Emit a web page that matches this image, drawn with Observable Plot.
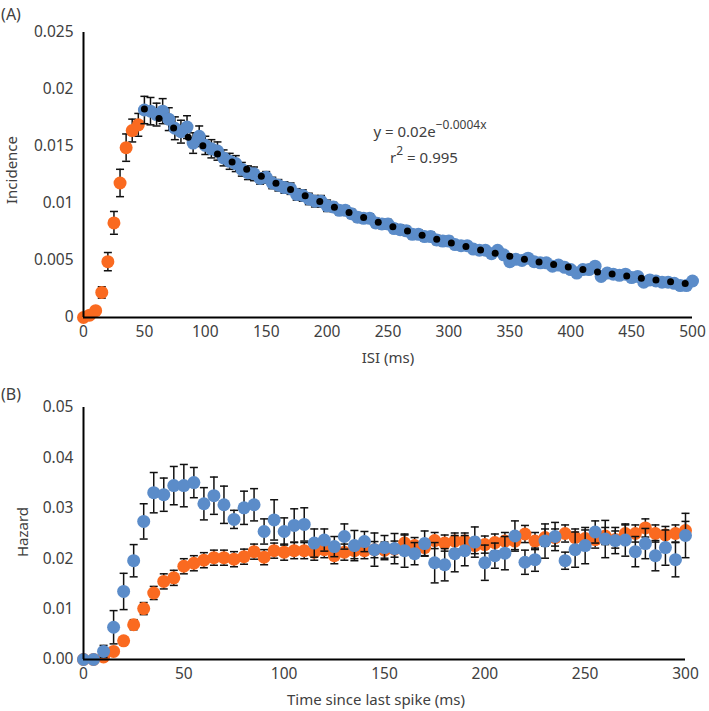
<!DOCTYPE html>
<html><head><meta charset="utf-8">
<script src="https://cdn.jsdelivr.net/npm/d3@7"></script>
<script src="https://cdn.jsdelivr.net/npm/@observablehq/plot@0.6"></script>
<style>
body{margin:0;background:#fff;}
#wrap{position:relative;width:709px;height:711px;font-family:"Noto Sans",sans-serif;color:#404040;}
#wrap svg{position:absolute;left:0;}
.lab{position:absolute;white-space:nowrap;font-size:15px;line-height:1;transform:translate(-50%,-50%);}
.rot{transform:translate(-50%,-50%) rotate(-90deg);}
.big{font-size:16px;}
sup{font-size:12px;vertical-align:0.6em;line-height:0;}
</style>
</head><body><div id="wrap"></div>
<script>
// ---------- Panel A: ISI distribution ----------
const isiTicksX = [0,50,100,150,200,250,300,350,400,450,500];
const incidenceTicks = [0,0.005,0.01,0.015,0.02,0.025];
const orangeT_A = [0,5,10,15,20,25,30,35,40,45];
const orangeV_A = [0,0.0002,0.0006,0.0022,0.0049,0.0083,0.0118,0.0149,0.0164,0.0169];
const orangeE_A = [0,0,0.0002,0.0005,0.0008,0.001,0.0012,0.0012,0.001,0.001];
const blueT_A = d3.range(50, 501, 5);
const blueV_A = [
0.0182,0.0181,0.0178,0.0181,0.0174,
0.0166,0.0163,0.0167,0.0153,0.0159,
0.0151,0.0148,0.0146,0.0140,0.0137,
0.0135,0.0130,0.0127,0.0126,0.0122,
0.0123,0.0118,0.0116,0.0114,0.0113,
0.0108,0.0107,0.0104,0.0102,0.0102,
0.0098,0.0097,0.0094,0.0094,0.0091,
0.0088,0.0087,0.0087,0.0083,0.0082,
0.0082,0.0078,0.0077,0.0076,0.0073,
0.0073,0.0071,0.0071,0.0068,0.0067,
0.0067,0.0064,0.0063,0.0063,0.0060,
0.0059,0.0059,0.0056,0.0059,0.0055,
0.0049,0.0051,0.0050,0.0052,0.0049,
0.0048,0.0048,0.0045,0.0046,0.0044,
0.0042,0.0039,0.0042,0.0042,0.0045,
0.0036,0.0039,0.0038,0.0037,0.0038,
0.0035,0.0036,0.0031,0.0033,0.0032,
0.0031,0.0031,0.0030,0.0028,0.0028,
0.0032];
const blueE_A = [
0.0012,0.0012,0.001,0.0011,0.001,
0.001,0.001,0.001,0.0009,0.0009,0.0008,
0.0008,0.0008,0.0007,0.0007,0.0007,0.0006,0.0006,0.0006,
0.0005,0.0005,0.0005,0.0005,0.0005,0.0005,0.0005,0.0005,0.0005,0.0005,0.0005,0.0005,
0.0004,0.0004,0.0004,0.0004,0.0004,0.0004,0.0004,0.0004,0.0004,0.0004,
0.0004,0.0004,0.0004,0.0004,0.0004,0.0004,0.0004,0.0004,0.0004,0.0004,
0.0003,0.0003,0.0003,0.0003,0.0003,0.0003,0.0003,0.0003,0.0003,0.0003,
0.0003,0.0003,0.0003,0.0003,0.0003,0.0003,0.0003,0.0003,0.0003,0.0003,
0.0003,0.0003,0.0003,0.0003,0.0003,0.0003,0.0003,0.0003,0.0003,0.0003,
0.0003,0.0003,0.0003,0.0003,0.0003,0.0003,0.0003,0.0003,0.0003,0.0003];
const fitT_A = d3.range(50, 495, 12);
const fitV_A = [0.0183,0.01745,0.01662,0.01582,0.01506,0.01434,0.01365,0.0130,0.01238,0.01178,
0.01122,0.01068,0.01017,0.00968,0.00922,0.00878,0.00836,0.00796,0.00758,0.00721,
0.00687,0.00654,0.00623,0.00593,0.00564,0.00537,0.00512,0.00487,0.00464,0.00442,
0.0042,0.0040,0.00381,0.00363,0.00345,0.00329,0.00313,0.00298];

// ---------- Panel B: hazard ----------
const timeTicksX = [0,50,100,150,200,250,300];
const hazardTicks = [0,0.01,0.02,0.03,0.04,0.05];
const timeT_B = d3.range(0, 301, 5);
const blueV_B = [0,0,0.0016,0.0064,0.0135,0.0196,0.0274,0.0331,0.0327,0.0345,
0.0345,0.0351,0.0309,0.0325,0.0307,0.0278,0.0301,0.0307,0.0254,0.0277,
0.0254,0.0266,0.0268,0.0231,0.0237,0.0224,0.0244,0.0226,0.0234,0.0218,
0.0222,0.0220,0.0216,0.0210,0.0230,0.0192,0.0188,0.0210,0.0216,0.0233,
0.0192,0.0206,0.0211,0.0245,0.0193,0.0198,0.0235,0.0244,0.0196,0.0218,
0.0226,0.0253,0.0239,0.0236,0.0237,0.0214,0.0230,0.0206,0.0222,0.0198,
0.0246];
const blueE_B = [0,0,0.0012,0.0033,0.0036,0.0032,0.0035,0.004,0.0033,0.0038,
0.0042,0.003,0.0032,0.0037,0.0037,0.0018,0.0033,0.0032,0.0025,0.004,
0.0027,0.0033,0.0033,0.0028,0.0022,0.002,0.0025,0.003,0.002,0.0033,
0.0024,0.003,0.0033,0.0022,0.0025,0.004,0.0032,0.0036,0.003,0.003,
0.0035,0.0025,0.0033,0.003,0.0024,0.0023,0.0034,0.0028,0.0017,0.0035,
0.0036,0.0022,0.0037,0.0026,0.0032,0.003,0.003,0.003,0.0035,0.0034,
0.0044];
const orangeV_B = [0,0,0.0005,0.0016,0.0037,0.0069,0.0101,0.0132,0.0155,0.0162,
0.0185,0.0191,0.0197,0.0202,0.0202,0.0199,0.0204,0.0214,0.0203,0.0216,
0.0213,0.0216,0.0216,0.0213,0.0218,0.0206,0.0213,0.0216,0.0216,0.0218,
0.0217,0.0219,0.0231,0.0226,0.0222,0.0236,0.0231,0.0235,0.0235,0.0226,
0.0228,0.0232,0.0235,0.0235,0.0249,0.0235,0.0242,0.0242,0.0250,0.0242,
0.0240,0.0238,0.0245,0.0238,0.0250,0.0250,0.0261,0.0250,0.0247,0.0250,
0.0256];
const orangeE_B = [0,0,0.0004,0.0006,0.0008,0.001,0.0012,0.0013,0.0015,0.0015,
0.0015,0.0015,0.0015,0.0015,0.0015,0.0015,0.0015,0.0015,0.0015,0.0015,
0.0016,0.0016,0.0016,0.0016,0.0016,0.0016,0.0016,0.0016,0.0016,0.0016,
0.0016,0.0016,0.0016,0.0016,0.0016,0.0016,0.0016,0.0016,0.0016,0.0016,
0.0017,0.0017,0.0017,0.0017,0.0017,0.0017,0.0017,0.0017,0.0017,0.0017,
0.0017,0.0017,0.0017,0.0017,0.0017,0.0017,0.0018,0.0017,0.0017,0.0017,
0.0018];

const BLUE = "#5b8cc9", ORANGE = "#fa6a20";
const zip = (t, v, e) => t.map((x, i) => ({t: x, v: v[i], e: e ? e[i] : 0}));
const capSym = {draw(ctx, size) { const w = Math.sqrt(size / Math.PI); ctx.moveTo(-w, 0); ctx.lineTo(w, 0); }};

function errMarks(data) {
  const d = data.filter(p => p.e > 0);
  return [
    Plot.ruleX(d, {x: "t", y1: p => p.v - p.e, y2: p => p.v + p.e, stroke: "#111", strokeWidth: 1.5}),
    Plot.dot(d, {x: "t", y: p => p.v + p.e, symbol: capSym, r: 4, stroke: "#111", strokeWidth: 1.5, fill: "none"}),
    Plot.dot(d, {x: "t", y: p => p.v - p.e, symbol: capSym, r: 4, stroke: "#111", strokeWidth: 1.5, fill: "none"})
  ];
}

const orangeA = zip(orangeT_A, orangeV_A, orangeE_A);
const blueA = zip(blueT_A, blueV_A, blueE_A);
const fitA = zip(fitT_A, fitV_A);
const orangeB = zip(timeT_B, orangeV_B, orangeE_B);
const blueB = zip(timeT_B, blueV_B, blueE_B);

const baseStyle = {fontFamily: "Noto Sans", fontSize: "15.5px", color: "#404040", background: "transparent", overflow: "visible"};

const chartA = Plot.plot({
  width: 709, height: 365,
  marginLeft: 83, marginRight: 17, marginTop: 32, marginBottom: 48,
  style: baseStyle,
  x: {domain: [0, 500], ticks: isiTicksX, tickSize: 0, tickPadding: 8, label: null},
  y: {domain: [0, 0.025], ticks: incidenceTicks, tickSize: 0, tickPadding: 10, label: null,
      tickFormat: d => String(+d.toFixed(3))},
  marks: [
    ...errMarks(orangeA),
    Plot.dot(orangeA, {x: "t", y: "v", r: 6.5, fill: ORANGE}),
    ...errMarks(blueA),
    Plot.dot(blueA, {x: "t", y: "v", r: 6.5, fill: BLUE}),
    Plot.dot(fitA, {x: "t", y: "v", r: 3.5, fill: "#000"}),
    Plot.ruleY([0], {stroke: "#000", strokeWidth: 2}),
    Plot.ruleX([0], {stroke: "#000", strokeWidth: 2})
  ]
});
chartA.style.top = "0px";

const chartB = Plot.plot({
  width: 709, height: 351,
  marginLeft: 83, marginRight: 24, marginTop: 47, marginBottom: 52,
  style: baseStyle,
  x: {domain: [0, 300], ticks: timeTicksX, tickSize: 0, tickPadding: 8, label: null},
  y: {domain: [0, 0.05], ticks: hazardTicks, tickSize: 0, tickPadding: 10, label: null, tickFormat: d3.format(".2f")},
  marks: [
    ...errMarks(orangeB),
    Plot.dot(orangeB, {x: "t", y: "v", r: 6.5, fill: ORANGE}),
    ...errMarks(blueB),
    Plot.dot(blueB, {x: "t", y: "v", r: 6.5, fill: BLUE}),
    Plot.ruleY([0], {stroke: "#000", strokeWidth: 2}),
    Plot.ruleX([0], {stroke: "#000", strokeWidth: 2})
  ]
});
chartB.style.top = "360px";

const wrap = document.getElementById("wrap");
wrap.append(chartA, chartB);

const labels = [
  {html: "(A)", x: 11, y: 14, big: true},
  {html: "(B)", x: 11, y: 394, big: true},
  {html: "Incidence", x: 11, y: 170, rot: true},
  {html: "Hazard", x: 22, y: 532, rot: true},
  {html: "ISI (ms)", x: 388, y: 357},
  {html: "Time since last spike (ms)", x: 376, y: 699},
  {html: "y = 0.02e<sup>\u22120.0004x</sup>", x: 430, y: 131},
  {html: "r<sup>2</sup> = 0.995", x: 424, y: 157}
];
for (const l of labels) {
  const d = document.createElement("div");
  d.className = "lab" + (l.rot ? " rot" : "") + (l.big ? " big" : "");
  d.style.left = l.x + "px";
  d.style.top = l.y + "px";
  d.innerHTML = l.html;
  wrap.append(d);
}
</script>
</body></html>
